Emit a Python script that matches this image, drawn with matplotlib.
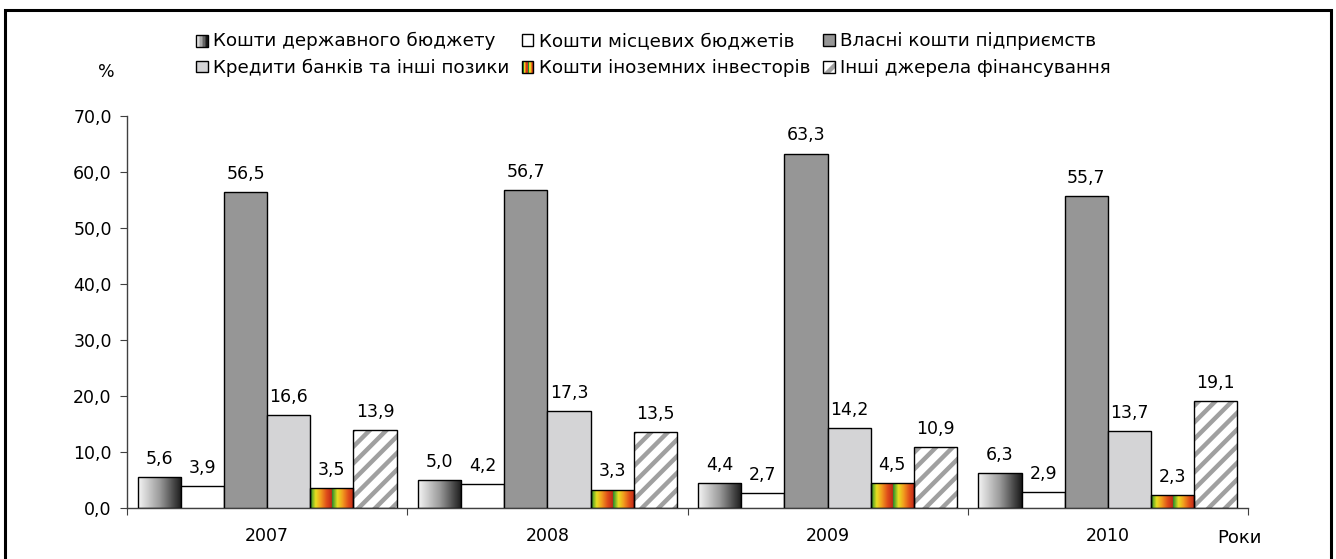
# Структура джерел фінансування капітальних інвестицій, %
import numpy as np
import matplotlib.pyplot as plt
from matplotlib.patches import Rectangle, Patch
from matplotlib.colors import LinearSegmentedColormap
from matplotlib.legend_handler import HandlerBase

plt.rcParams['font.family'] = ['DejaVu Sans']
plt.rcParams['hatch.linewidth'] = 3.2
plt.rcParams['hatch.color'] = '#a0a0a0'

years = ['2007', '2008', '2009', '2010']
state = [5.6, 5.0, 4.4, 6.3]
local = [3.9, 4.2, 2.7, 2.9]
own = [56.5, 56.7, 63.3, 55.7]
credit = [16.6, 17.3, 14.2, 13.7]
foreign = [3.5, 3.3, 4.5, 2.3]
other = [13.9, 13.5, 10.9, 19.1]

labels = ['Кошти державного бюджету', 'Кошти місцевих бюджетів',
          'Власні кошти підприємств', 'Кредити банків та інші позики',
          'Кошти іноземних інвесторів', 'Інші джерела фінансування']

grad_cmap = LinearSegmentedColormap.from_list('g', ['#f4f4f4', '#9a9a9a', '#1a1a1a'])
stripe_cmap = LinearSegmentedColormap.from_list(
    's', ['#1e8c2c', '#e8e020', '#f29a1e', '#e0501a', '#c02818'])

fig = plt.figure(figsize=(13.36, 5.59), dpi=100)
ax = fig.add_axes([127 / 1336, 51 / 559, 1121 / 1336, 392 / 559])

x = np.arange(len(years))
w = 0.154
series = [state, local, own, credit, foreign, other]
offsets = (np.arange(6) - 2.5) * w

grad = np.linspace(0, 1, 64).reshape(1, -1)
stripes = ((np.linspace(0, 2, 128) % 1.0)).reshape(1, -1)

for i, (vals, off) in enumerate(zip(series, offsets)):
    xs = x + off
    if i == 0:
        bars = ax.bar(xs, vals, w, color='none', edgecolor='black', lw=1, zorder=3)
        for b in bars:
            im = ax.imshow(grad, cmap=grad_cmap, aspect='auto', zorder=2,
                           extent=[b.get_x(), b.get_x() + b.get_width(), 0, b.get_height()])
            im.set_clip_path(b)
    elif i == 4:
        bars = ax.bar(xs, vals, w, color='none', edgecolor='black', lw=1, zorder=3)
        for b in bars:
            im = ax.imshow(stripes, cmap=stripe_cmap, aspect='auto', zorder=2,
                           extent=[b.get_x(), b.get_x() + b.get_width(), 0, b.get_height()])
            im.set_clip_path(b)
    elif i == 5:
        ax.bar(xs, vals, w, color='white', edgecolor='#a0a0a0', hatch='//', lw=0, zorder=2)
        bars = ax.bar(xs, vals, w, color='none', edgecolor='black', lw=1, zorder=3)
    else:
        fc = ['white', 'white', '#969696', '#d4d4d6'][i]
        bars = ax.bar(xs, vals, w, color=fc, edgecolor='black', lw=1, zorder=3)
    for xi, v in zip(xs, vals):
        ax.annotate(f'{v:.1f}'.replace('.', ','), (xi, v), xytext=(0, 6.5),
                    textcoords='offset points', ha='center', va='bottom', fontsize=12.5)

ax.set_xlim(-0.5, 3.5)
ax.set_ylim(0, 70)
ax.set_yticks(np.arange(0, 71, 10))
ax.set_yticklabels([f'{t:.1f}'.replace('.', ',') for t in np.arange(0, 71, 10)], fontsize=12.5)
ax.set_xticks(np.arange(-0.5, 4, 1))
ax.set_xticklabels([])
ax.set_xticks(x, minor=True)
ax.set_xticklabels(years, minor=True, fontsize=12.5)
ax.tick_params(axis='x', which='minor', length=0, pad=14)
ax.tick_params(axis='x', which='major', length=5, color='#404040')
ax.tick_params(axis='y', length=5, color='#404040', pad=6)
for s in ['top', 'right']:
    ax.spines[s].set_visible(False)
for s in ['left', 'bottom']:
    ax.spines[s].set_color('#404040')
    ax.spines[s].set_linewidth(1)

fig.text(106 / 1336, 1 - 72 / 559, '%', ha='center', va='center', fontsize=12.5)
fig.text(1239 / 1336, 1 - 538 / 559, 'Роки', ha='center', va='center', fontsize=13)


class StripeHandler(HandlerBase):
    def __init__(self, cmap, vals):
        super().__init__()
        self.cmap = cmap
        self.vals = vals

    def create_artists(self, legend, orig, xd, yd, width, height, fontsize, trans):
        n = len(self.vals)
        arts = []
        for k, v in enumerate(self.vals):
            arts.append(Rectangle((xd + width * k / n, yd), width / n, height,
                                  facecolor=self.cmap(v), lw=0, transform=trans))
        arts.append(Rectangle((xd, yd), width, height, facecolor='none',
                              edgecolor='black', lw=1, transform=trans))
        return arts


class HatchHandler(HandlerBase):
    def create_artists(self, legend, orig, xd, yd, width, height, fontsize, trans):
        return [Rectangle((xd, yd), width, height, facecolor='white', edgecolor='#a0a0a0',
                          hatch='/', lw=0, transform=trans),
                Rectangle((xd, yd), width, height, facecolor='none', edgecolor='black',
                          lw=1, transform=trans)]


h_state = Patch(label=labels[0])
h_local = Patch(facecolor='white', edgecolor='black', label=labels[1])
h_own = Patch(facecolor='#969696', edgecolor='black', label=labels[2])
h_credit = Patch(facecolor='#d4d4d6', edgecolor='black', label=labels[3])
h_foreign = Patch(label=labels[4])
h_other = Patch(label=labels[5])

handles = [h_state, h_credit, h_local, h_foreign, h_own, h_other]
leg = fig.legend(handles=handles, ncol=3, loc='upper left',
                 bbox_to_anchor=(187 / 1336, 1 - 23 / 559), frameon=False,
                 prop={'size': 13.2},
                 handlelength=0.62, handleheight=0.62, handletextpad=0.3,
                 columnspacing=0.7, labelspacing=0.45, borderpad=0,
                 handler_map={h_state: StripeHandler(grad_cmap, np.linspace(0, 1, 8)),
                              h_foreign: StripeHandler(stripe_cmap, [0.0, 0.3, 0.6, 0.9, 0.0, 0.3, 0.6, 0.9]),
                              h_other: HatchHandler()})

fig.patches.append(Rectangle((5 / 1336, -0.05), 1326 / 1336, 1.05 - 10 / 559,
                             transform=fig.transFigure, fill=False,
                             edgecolor='black', lw=2.2))

fig.savefig('out.png', dpi=100)
